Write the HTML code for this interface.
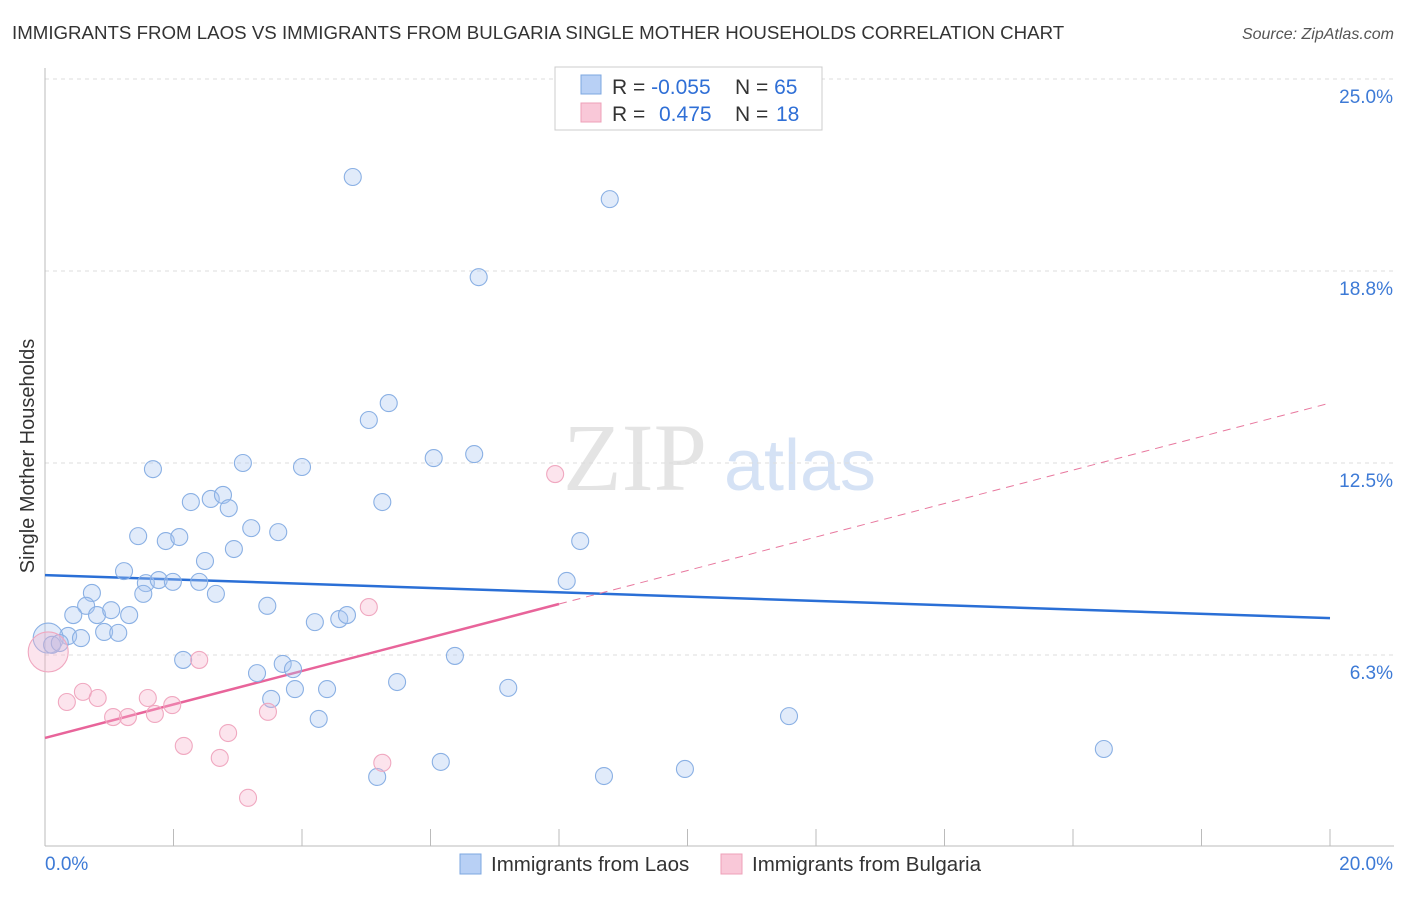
<!DOCTYPE html>
<html><head><meta charset="utf-8"><style>
body{margin:0;background:#fff;font-family:"Liberation Sans",sans-serif}
</style></head><body>
<svg id="chart" width="1406" height="892" xmlns="http://www.w3.org/2000/svg">
<text x="12" y="39" font-size="18.7" fill="#333">IMMIGRANTS FROM LAOS VS IMMIGRANTS FROM BULGARIA SINGLE MOTHER HOUSEHOLDS CORRELATION CHART</text>
<text x="1394" y="39" font-size="16" fill="#555" font-style="italic" text-anchor="end">Source: ZipAtlas.com</text>
<g>
<text x="635" y="490" font-size="96" font-family="Liberation Serif,serif" fill="#e4e4e4" text-anchor="middle">ZIP</text>
<text x="800" y="490" font-size="72" fill="#d5e2f5" text-anchor="middle">atlas</text>
</g>
<g id="grid"></g><g id="axes"></g><g id="lines"></g><g id="points"></g>
<text transform="translate(34,456) rotate(-90)" font-size="20" fill="#333" text-anchor="middle">Single Mother Households</text>
<g>
<rect x="555" y="67" width="267" height="63" fill="#fff" stroke="#ccc"/>
<rect x="581" y="75" width="20" height="19" fill="#b8d0f5" stroke="#7da7e0"/>
<rect x="581" y="103" width="20" height="19" fill="#f9c8d8" stroke="#eea0b8"/>
<text x="612" y="94" font-size="21" fill="#333">R = <tspan fill="#2f6fd6">-0.055</tspan></text>
<text x="735" y="94" font-size="21" fill="#333">N = <tspan fill="#2f6fd6">65</tspan></text>
<text x="612" y="121" font-size="21" fill="#333">R = <tspan x="659" fill="#2f6fd6">0.475</tspan></text>
<text x="735" y="121" font-size="21" fill="#333">N = <tspan x="776" fill="#2f6fd6">18</tspan></text>
</g>
<g>
<rect x="460" y="854" width="21" height="20" fill="#b8d0f5" stroke="#7da7e0"/>
<text x="491" y="871" font-size="20.5" fill="#333">Immigrants from Laos</text>
<rect x="721" y="854" width="21" height="20" fill="#f9c8d8" stroke="#eea0b8"/>
<text x="752" y="871" font-size="20.5" fill="#333">Immigrants from Bulgaria</text>
</g>
</svg>
<script>
const yTicks=[6.25,12.5,18.75,25];
const yTickLabels=["6.3%","12.5%","18.8%","25.0%"];
const xTicks=[0,2,4,6,8,10,12,14,16,18,20];
const laosX=[4.79,8.79,6.75,5.35,5.04,1.68,3.08,4.00,6.05,6.68,2.27,2.58,2.77,2.86,5.25,1.45,1.88,2.09,3.21,3.63,2.94,2.49,8.33,1.23,0.73,1.57,1.77,1.99,2.40,2.66,1.53,8.12,0.64,0.44,0.81,1.03,1.31,3.46,4.20,4.58,4.70,0.36,0.56,0.92,1.14,0.05,0.11,0.23,2.15,3.30,3.70,3.86,6.38,3.52,3.89,4.39,5.48,7.21,4.26,11.58,16.48,5.17,6.16,8.70,9.96];
const laosY=[21.81,21.09,18.55,14.45,13.90,12.30,12.50,12.37,12.66,12.79,11.23,11.33,11.46,11.03,11.23,10.12,9.96,10.09,10.38,10.25,9.70,9.31,9.96,8.98,8.27,8.59,8.69,8.63,8.63,8.24,8.24,8.66,7.85,7.55,7.55,7.71,7.55,7.85,7.32,7.42,7.55,6.87,6.80,7.00,6.97,6.80,6.58,6.64,6.09,5.66,5.96,5.79,6.22,4.82,5.14,5.14,5.37,5.18,4.17,4.26,3.19,2.28,2.77,2.31,2.54];
const bulX=[0.05,0.59,0.34,0.82,1.06,1.29,1.60,1.71,1.98,2.40,2.16,2.85,2.72,3.47,3.16,5.04,5.25,7.94];
const bulY=[6.35,5.05,4.72,4.85,4.23,4.23,4.85,4.33,4.62,6.09,3.29,3.71,2.90,4.40,1.60,7.81,2.74,12.14];
const laosTrend=[8.85,7.45];
const bulTrend=[3.55,14.45];
const bulSolidEnd=8;
const NS="http://www.w3.org/2000/svg";
const X=v=>45+v*64.25, Y=v=>79+(25-v)*30.72;
function mk(tag,attrs,parent){const e=document.createElementNS(NS,tag);for(const k in attrs)e.setAttribute(k,attrs[k]);document.getElementById(parent).appendChild(e);return e;}
yTicks.forEach((t,i)=>{
 const l=mk('line',{x1:45,x2:1394,y1:Y(t),y2:Y(t),stroke:'#ddd','stroke-dasharray':'4,4'},'grid');
 
 
 const tx=mk('text',{x:1393,y:Y(t)+24,'font-size':19,fill:'#3d7ad6','text-anchor':'end'},'grid');
 tx.textContent=yTickLabels[i];
 
 
});
const ya=mk('line',{x1:45,x2:45,y1:68,y2:846,stroke:'#bbb'},'axes');


const xa=mk('line',{x1:45,x2:1394,y1:846,y2:846,stroke:'#bbb'},'axes');


xTicks.forEach(t=>{
 const l=mk('line',{x1:X(t),x2:X(t),y1:829,y2:846,stroke:'#bbb'},'axes');
 
 
});
[[0,"0.0%","start",45],[20,"20.0%","end",1393]].forEach(a=>{
 const t=mk('text',{x:a[3],y:870,'font-size':19,fill:'#3d7ad6','text-anchor':a[2]},'axes');
 t.textContent=a[1];
 
 
});
laosX.forEach((x,i)=>{
 const r=(i===45)?15:8.5;
 const c=mk('circle',{cx:X(x),cy:Y(laosY[i]),r:r,fill:'rgba(170,198,242,0.35)',stroke:'#8ab0e4','stroke-width':1.1},'points');
 
 
});
bulX.forEach((x,i)=>{
 const r=(i===0)?20:8.5;
 const c=mk('circle',{cx:X(x),cy:Y(bulY[i]),r:r,fill:'rgba(246,178,202,0.35)',stroke:'#f0a8c0','stroke-width':1.1},'points');
 
 
});
const bl=mk('line',{x1:X(0),y1:Y(laosTrend[0]),x2:X(20),y2:Y(laosTrend[1]),stroke:'#2a6fd6','stroke-width':2.5},'lines');


const bAt=x=>bulTrend[0]+(bulTrend[1]-bulTrend[0])*x/20;
const pd=mk('line',{x1:X(bulSolidEnd),y1:Y(bAt(bulSolidEnd)),x2:X(20),y2:Y(bulTrend[1]),stroke:'#e8789e','stroke-width':1,'stroke-dasharray':'8,6'},'lines');


const ps=mk('line',{x1:X(0),y1:Y(bulTrend[0]),x2:X(bulSolidEnd),y2:Y(bAt(bulSolidEnd)),stroke:'#e8649a','stroke-width':2.5},'lines');


</script>
</body></html>
